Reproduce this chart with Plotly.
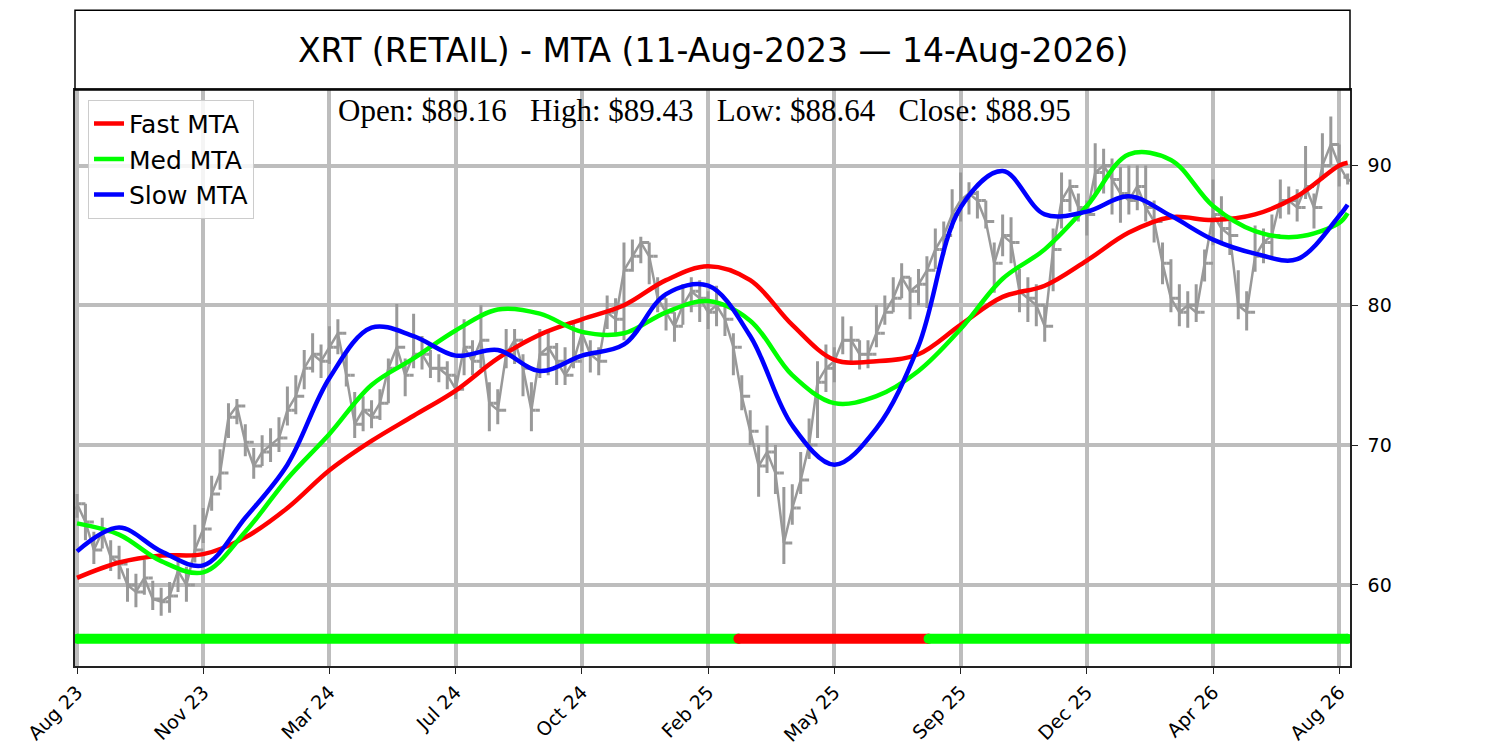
import plotly.graph_objects as go

# weekly price samples (trading-day index, every 5 bars)
bar_idx = list(range(0, 756, 5))
close = [65.8, 64.5, 62.5, 63.8, 62.0, 61.5, 60.0, 59.5, 60.5, 59.0,
         58.8, 59.2, 61.0, 60.0, 62.5, 64.0, 66.5, 68.0, 72.0, 72.8,
         70.2, 68.5, 69.5, 70.0, 70.5, 72.5, 73.5, 75.5, 76.5, 76.0,
         77.0, 78.0, 75.0, 71.5, 72.5, 72.0, 73.0, 75.5, 77.0, 75.0,
         76.5, 76.5, 75.5, 75.5, 75.0, 74.0, 77.0, 76.0, 77.5, 73.0,
         72.5, 76.5, 77.5, 75.5, 72.5, 76.5, 77.0, 76.0, 75.0, 76.0,
         78.0, 76.5, 76.0, 79.5, 79.0, 82.5, 83.5, 84.5, 83.5, 80.5,
         79.5, 78.5, 80.0, 81.0, 80.5, 79.5, 80.0, 79.0, 77.0, 73.5,
         71.0, 68.5, 69.5, 68.0, 63.0, 65.5, 67.5, 70.0, 74.5, 75.5,
         76.0, 77.5, 77.5, 76.5, 76.5, 78.0, 79.5, 80.5, 82.0, 81.0,
         81.5, 82.5, 84.0, 85.0, 86.5, 87.5, 88.0, 87.5, 86.0, 83.0,
         85.0, 84.5, 81.0, 80.5, 80.0, 78.5, 84.0, 87.5, 88.5, 87.0,
         86.5, 89.5, 90.0, 89.0, 88.0, 87.5, 88.5, 87.0, 86.0, 83.0,
         80.5, 79.5, 80.0, 79.5, 83.0, 86.5, 85.5, 85.0, 80.0, 79.5,
         83.5, 84.5, 85.0, 87.5, 87.5, 87.0, 88.5, 87.0, 90.0, 91.5,
         90.0, 88.95]
high = [66.5, 65.8, 63.8, 64.8, 63.2, 62.8, 61.2, 60.8, 61.8, 60.3,
        59.8, 60.2, 62.2, 61.3, 64.3, 65.5, 67.8, 69.7, 73.0, 73.3,
        71.5, 69.8, 70.7, 71.2, 72.0, 74.2, 75.0, 76.8, 78.0, 77.2,
        78.5, 79.0, 76.5, 73.8, 73.5, 73.2, 74.0, 76.2, 80.1, 76.2,
        79.4, 77.8, 76.8, 76.5, 76.0, 75.0, 79.0, 77.5, 80.0, 74.5,
        74.0, 78.3, 78.3, 76.5, 74.5, 78.3, 78.3, 77.3, 77.0, 78.8,
        78.8, 77.5, 77.0, 80.7, 80.5, 84.5, 84.7, 84.9, 84.5, 82.0,
        80.5, 79.5, 81.5, 82.0, 81.8, 81.0, 81.4, 80.0, 78.0, 75.0,
        72.5, 70.0, 71.4, 70.0, 67.0, 67.2, 69.5, 71.9, 76.0, 77.2,
        77.0, 79.2, 78.5, 77.5, 77.5, 80.0, 80.7, 82.0, 83.0, 82.0,
        82.6, 83.5, 85.5, 86.0, 88.3, 89.5, 88.8, 88.2, 87.5, 84.5,
        86.5, 86.3, 82.6, 82.0, 81.5, 80.0, 85.5, 89.5, 89.0, 88.0,
        87.5, 91.6, 91.2, 90.5, 89.9, 90.0, 90.0, 90.0, 87.5, 84.5,
        83.3, 81.5, 81.0, 81.5, 84.0, 89.0, 87.8, 86.4, 82.5, 81.0,
        85.7, 85.5, 86.5, 89.0, 88.5, 88.3, 91.4, 88.0, 92.3, 93.5,
        91.5, 89.43]
low = [64.8, 63.2, 61.5, 62.6, 61.0, 60.4, 58.8, 58.4, 59.3, 58.2,
       57.8, 58.0, 59.5, 58.8, 61.6, 63.0, 65.3, 66.8, 70.5, 71.5,
       69.2, 67.6, 68.5, 68.8, 69.5, 71.4, 72.2, 74.0, 75.2, 74.8,
       75.8, 76.5, 74.2, 70.5, 71.0, 71.2, 71.8, 73.0, 75.5, 73.5,
       75.5, 75.4, 74.8, 74.5, 74.0, 73.3, 75.0, 75.0, 75.5, 71.0,
       71.5, 75.5, 75.8, 73.5, 71.0, 74.8, 75.0, 74.3, 74.3, 75.5,
       76.7, 75.2, 75.0, 78.3, 77.8, 77.5, 82.4, 83.0, 81.5, 79.5,
       78.2, 77.4, 78.6, 79.5, 78.8, 78.3, 78.5, 77.8, 75.0, 72.5,
       70.0, 66.3, 68.0, 66.5, 61.5, 64.3, 66.5, 69.0, 70.5, 73.8,
       74.5, 76.5, 76.0, 75.4, 75.5, 77.0, 78.6, 79.5, 80.5, 79.0,
       80.0, 79.8, 82.6, 83.6, 85.5, 86.0, 86.5, 86.2, 85.5, 80.9,
       83.5, 83.0, 79.5, 78.8, 78.5, 77.4, 81.0, 85.5, 86.7, 86.0,
       85.0, 87.8, 88.0, 86.5, 85.9, 86.5, 86.8, 86.0, 84.5, 81.5,
       79.5, 78.5, 78.4, 78.8, 81.7, 84.3, 84.3, 83.6, 79.0, 78.2,
       82.4, 83.0, 83.5, 86.2, 86.5, 86.0, 87.6, 85.5, 89.0, 90.0,
       88.5, 88.64]
first_open = 65.5
last_open = 89.16

# moving trend averages, sampled every 25 bars
mta_idx = list(range(0, 751, 25)) + [755]
fast_mta = [60.5, 61.6, 62.1, 62.2, 63.4, 65.5, 68.2, 70.3, 72.1, 73.9,
            76.2, 77.9, 79.0, 80.0, 81.8, 82.8, 81.8, 78.6, 76.1, 76.0,
            76.5, 78.6, 80.6, 81.4, 83.2, 85.2, 86.3, 86.1, 86.5, 87.8,
            90.0, 90.2]
med_mta = [64.4, 63.6, 61.7, 60.9, 63.8, 67.6, 70.8, 74.3, 76.2, 78.2,
           79.7, 79.4, 78.1, 78.0, 79.5, 80.3, 78.9, 75.0, 73.0, 73.5,
           75.3, 78.3, 81.9, 84.0, 87.1, 90.8, 90.4, 87.1, 85.3, 84.9,
           85.9, 86.6]
slow_mta = [62.4, 64.1, 62.4, 61.4, 64.8, 68.6, 74.8, 78.4, 77.8, 76.4,
            76.8, 75.3, 76.4, 77.2, 80.8, 81.4, 77.8, 71.4, 68.6, 71.2,
            77.1, 87.0, 89.6, 86.5, 86.7, 87.8, 86.4, 84.7, 83.7, 83.3,
            86.4, 87.2]

# trend signal strip
signal_breaks = [0, 393, 506, 755]
signal_colors = ["#00ff00", "#ff0000", "#00ff00"]
signal_level = 56.15

tick_labels = ["Aug 23", "Nov 23", "Mar 24", "Jul 24", "Oct 24", "Feb 25",
               "May 25", "Sep 25", "Dec 25", "Apr 26", "Aug 26"]
tick_step = 75

GRAY = "#999999"
GRID = "#bdbdbd"
FONT = "DejaVu Sans"

opens = [first_open] + close[:-2] + [last_open]

fig = go.Figure()

# price: close path plus weekly high-low bars
fig.add_trace(go.Scatter(
    x=bar_idx, y=close, mode="lines", line=dict(color=GRAY, width=2.5),
    showlegend=False, hoverinfo="skip",
))
fig.add_trace(go.Ohlc(
    x=bar_idx, open=opens, high=high, low=low, close=close,
    increasing=dict(line=dict(color=GRAY, width=3)),
    decreasing=dict(line=dict(color=GRAY, width=3)),
    tickwidth=0.5, showlegend=False, hoverinfo="skip",
))

for name, vals, col in [("Fast MTA", fast_mta, "#ff0000"),
                        ("Med MTA", med_mta, "#00ff00"),
                        ("Slow MTA", slow_mta, "#0000ff")]:
    fig.add_trace(go.Scatter(
        x=mta_idx, y=vals, mode="lines", name=name,
        line=dict(color=col, width=4.5, shape="spline", smoothing=1.0),
    ))

for i, col in enumerate(signal_colors):
    seg = [signal_breaks[i], signal_breaks[i + 1]]
    fig.add_trace(go.Scatter(
        x=seg, y=[signal_level, signal_level], mode="lines+markers",
        line=dict(color=col, width=10), marker=dict(color=col, size=10),
        showlegend=False, hoverinfo="skip",
    ))

last = len(close) - 1
ohlc_text = (f"Open: ${opens[last]:.2f}   High: ${high[last]:.2f}   "
             f"Low: ${low[last]:.2f}   Close: ${close[last]:.2f}")

# page body adds an 8px offset, margins compensate for it
fig.update_layout(
    width=1500, height=750,
    margin=dict(l=67, r=158, t=82, b=90),
    paper_bgcolor="white", plot_bgcolor="white",
    font=dict(family=FONT, color="black"),
    showlegend=True,
    legend=dict(x=0.0102, y=0.983, xanchor="left", yanchor="top",
                bgcolor="rgba(255,255,255,0.85)", bordercolor="#cccccc",
                borderwidth=1, font=dict(size=25, family=FONT)),
    shapes=[dict(type="rect", xref="paper", yref="paper",
                 x0=0, x1=1, y0=1, y1=1.1384,
                 line=dict(color="black", width=1.5))],
    annotations=[
        dict(text="XRT (RETAIL) - MTA (11-Aug-2023 \u2014 14-Aug-2026)",
             xref="paper", yref="paper", x=0.5, y=1.069,
             xanchor="center", yanchor="middle", showarrow=False,
             font=dict(size=33, family=FONT)),
        dict(text=ohlc_text.replace("   ", "&nbsp;&nbsp;&nbsp;"),
             xref="paper", yref="paper", x=0.494, y=0.965,
             xanchor="center", yanchor="middle", showarrow=False,
             font=dict(size=31, family="Liberation Serif")),
    ],
)

fig.update_xaxes(
    range=[-1.2, 756.4],
    tickvals=[i * tick_step for i in range(len(tick_labels))],
    ticktext=tick_labels, tickangle=-45,
    tickfont=dict(size=19), ticks="outside", ticklen=6, tickcolor="#222",
    showgrid=True, gridcolor=GRID, gridwidth=3.5,
    showline=True, linecolor="#222", linewidth=1.5, mirror=True,
    zeroline=False, rangeslider=dict(visible=False),
)
fig.update_yaxes(
    range=[54.2, 95.4], side="right",
    tickvals=[60, 70, 80, 90],
    tickfont=dict(size=19), ticks="outside", ticklen=6, tickcolor="#222",
    ticklabelstandoff=6,
    showgrid=True, gridcolor=GRID, gridwidth=3.5,
    showline=True, linecolor="#222", linewidth=1.5, mirror=True,
    zeroline=False,
)

fig.write_html("out.html")
